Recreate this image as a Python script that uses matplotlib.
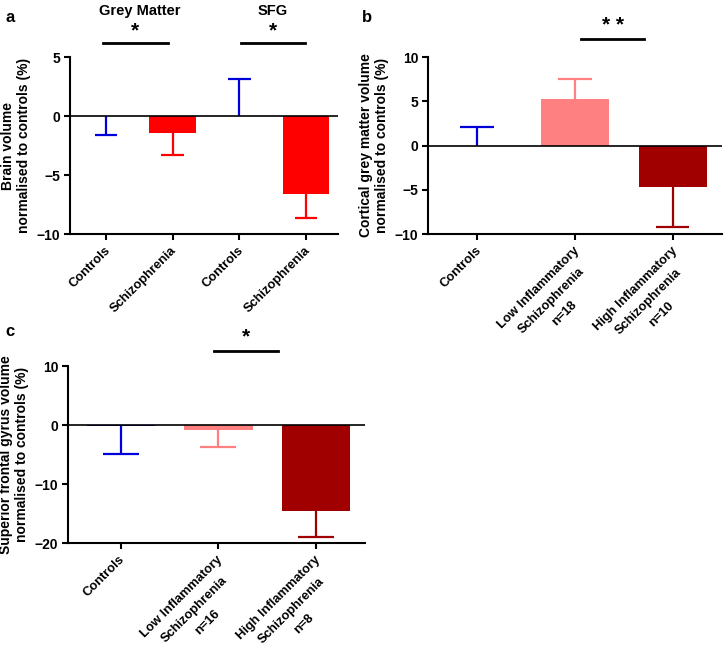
import matplotlib.pyplot as plt
import numpy as np

plt.rcParams["font.family"] = ["Liberation Sans", "DejaVu Sans"]
plt.rcParams["font.weight"] = "bold"

# Panel a: whole grey matter and SFG
a_labels = ["Controls", "Schizophrenia", "Controls", "Schizophrenia"]
a_means = [0.0, -1.4, 0.0, -6.6]
a_errs = [-1.57, -1.9, 3.1, -2.05]
a_groups = ["Grey Matter", "SFG"]

# Panel b: cortical grey matter by inflammatory status
b_labels = ["Controls", "Low Inflammatory\nSchizophrenia\nn=18",
            "High Inflammatory\nSchizophrenia\nn=10"]
b_means = [0.0, 5.3, -4.67]
b_errs = [2.1, 2.2, -4.53]

# Panel c: superior frontal gyrus by inflammatory status
c_labels = ["Controls", "Low Inflammatory\nSchizophrenia\nn=16",
            "High Inflammatory\nSchizophrenia\nn=8"]
c_means = [-0.2, -0.8, -14.6]
c_errs = [-4.75, -3.0, -4.3]

BLUE = "#0000dd"
RED = "#ff0000"
LIGHT = "#ff8080"
DARK = "#a00000"

XFONT = 9.3
PITCH = 13.2  # points between label lines
DPI = 100


def draw_bars(ax, means, errs, colors, cap=0.17, width=0.7):
    x = np.arange(len(means))
    ax.bar(x, means, width=width, color=colors, edgecolor="none", zorder=2)
    for xi, m, e, col in zip(x, means, errs, colors):
        ax.plot([xi, xi], [m, m + e], color=col, lw=1.6, zorder=3,
                solid_capstyle="butt")
        ax.plot([xi - cap, xi + cap], [m + e, m + e], color=col, lw=1.6,
                zorder=3, solid_capstyle="butt")
    ax.axhline(0, color="black", lw=1.2, zorder=4)
    return x


def rotated_labels(ax, labels):
    """Draw 45 degree labels line by line, centred like a multi-line block."""
    renderer = ax.figure.canvas.get_renderer()
    c = np.cos(np.radians(45))
    for xi, label in enumerate(labels):
        lines = label.split("\n")
        widths = []
        for ln in lines:
            t = ax.text(0, 0, ln, fontsize=XFONT, fontweight="bold")
            widths.append(t.get_window_extent(renderer).width * 72 / DPI)
            t.remove()
        w = max(widths)
        for k, ln in enumerate(lines):
            off = (k + 0.5) * PITCH
            dx = (-w / 2 + off) * c - 3
            dy = (-w / 2 - off) * c - 6
            ax.annotate(ln, xy=(xi, 0), xycoords=ax.get_xaxis_transform(),
                        xytext=(dx, dy), textcoords="offset points",
                        rotation=45, rotation_mode="anchor", ha="center",
                        va="center", fontsize=XFONT, fontweight="bold",
                        annotation_clip=False)


def style_axes(ax, labels, ylim, yticks, ylabel):
    ax.set_ylim(*ylim)
    ax.set_yticks(yticks)
    ax.set_xticks(np.arange(len(labels)))
    ax.set_xticklabels([])
    rotated_labels(ax, labels)
    for lab in ax.get_yticklabels():
        lab.set_fontsize(10)
        lab.set_fontweight("bold")
    ax.spines["top"].set_visible(False)
    ax.spines["right"].set_visible(False)
    ax.spines["left"].set_linewidth(1.5)
    ax.spines["bottom"].set_linewidth(1.5)
    ax.tick_params(axis="both", direction="out", length=4, width=1.5, pad=3)
    ax.set_ylabel(ylabel, fontsize=10, fontweight="bold", labelpad=4)


def sig_bar(ax, x0, x1, y, ystar, text):
    ax.plot([x0, x1], [y, y], color="black", lw=2, clip_on=False)
    ax.text((x0 + x1) / 2, ystar, text, ha="center", va="center",
            fontsize=15, fontweight="bold", clip_on=False)


fig = plt.figure(figsize=(7.24, 6.47), dpi=DPI)

# ---- panel a
ax_a = fig.add_axes([0.0967, 0.6383, 0.370, 0.2736])
draw_bars(ax_a, a_means, a_errs, [BLUE, RED, BLUE, RED])
ax_a.set_xlim(-0.54, 3.48)
style_axes(ax_a, a_labels, (-10, 5), [-10, -5, 0, 5],
           "Brain volume\nnormalised to controls (%)")
sig_bar(ax_a, -0.05, 0.93, 6.16, 7.2, "*")
sig_bar(ax_a, 2.02, 2.98, 6.16, 7.2, "*")
for i, g in enumerate(a_groups):
    ax_a.text(2 * i + 0.5, 8.9, g, ha="center", va="center", fontsize=10.5,
              fontweight="bold", clip_on=False)

# ---- panel b
ax_b = fig.add_axes([0.591, 0.6383, 0.406, 0.2736])
draw_bars(ax_b, b_means, b_errs, [BLUE, LIGHT, DARK])
ax_b.set_xlim(-0.5, 2.5)
style_axes(ax_b, b_labels, (-10, 10), [-10, -5, 0, 5, 10],
           "Cortical grey matter volume\nnormalised to controls (%)")
sig_bar(ax_b, 1.06, 1.71, 12.06, 13.6, "* *")

# ---- panel c
ax_c = fig.add_axes([0.0939, 0.1607, 0.410, 0.2736])
draw_bars(ax_c, c_means, c_errs, [BLUE, LIGHT, DARK], cap=0.185)
ax_c.set_xlim(-0.54, 2.5)
style_axes(ax_c, c_labels, (-20, 10), [-20, -10, 0, 10],
           "Superior frontal gyrus volume\nnormalised to controls (%)")
sig_bar(ax_c, 0.96, 1.61, 12.5, 14.9, "*")

# panel letters
fig.text(0.007, 0.985, "a", fontsize=12, fontweight="bold", va="top")
fig.text(0.500, 0.985, "b", fontsize=12, fontweight="bold", va="top")
fig.text(0.007, 0.500, "c", fontsize=12, fontweight="bold", va="top")

fig.savefig("out.png", dpi=DPI)
